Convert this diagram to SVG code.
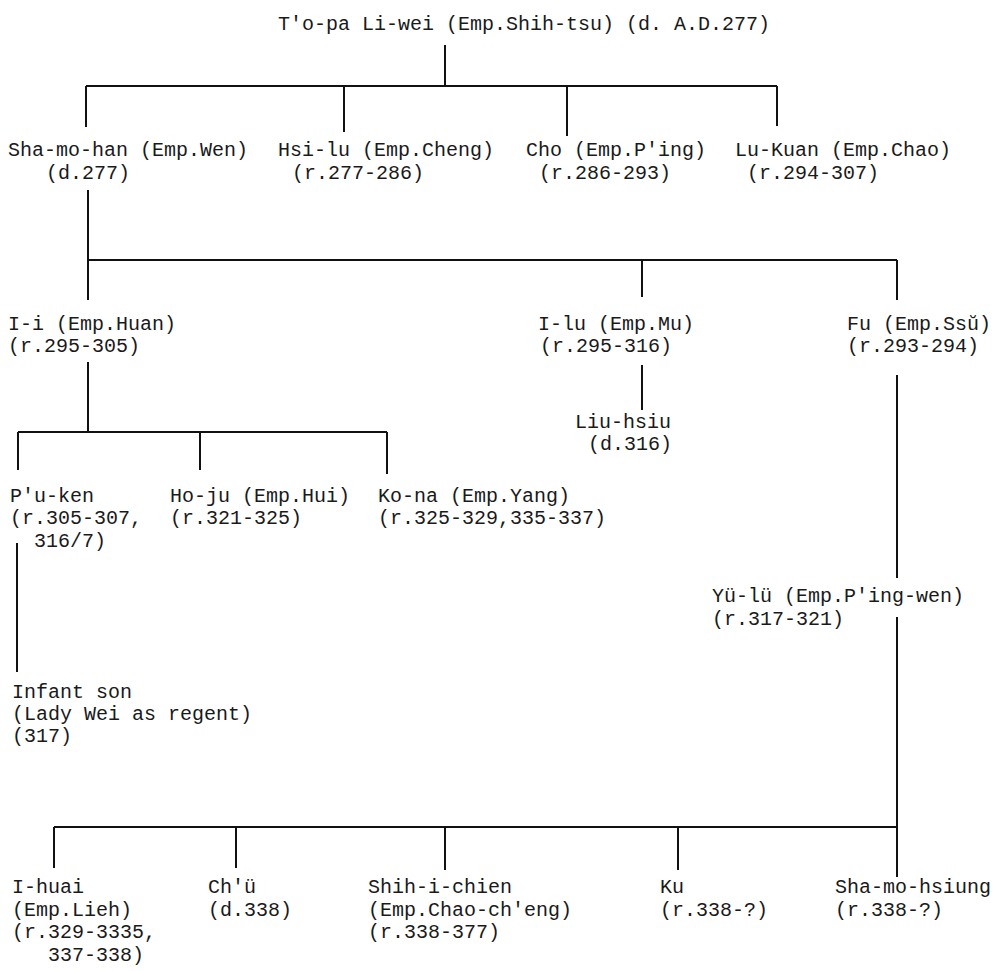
<svg xmlns="http://www.w3.org/2000/svg" width="998" height="971" viewBox="0 0 998 971">
  <style>
    .bg { fill: #ffffff; }
    text { font-family: "Liberation Mono", "DejaVu Sans Mono", monospace; font-size: 20px; fill: #1a1a1a; }
    .link { stroke: #111111; stroke-width: 2; fill: none; }
  </style>
  <rect class="bg" x="0" y="0" width="998" height="971"/>

  <!-- lines of descent -->
  <g id="connectors">
    <path class="link" d="M445,45 V86 M86,86 H777 M86,86 V127 M344,86 V132 M567,86 V136 M777,86 V126"/>
    <path class="link" d="M88,190 V300 M88,260 H897 M642,260 V297 M897,260 V300"/>
    <path class="link" d="M642,365 V410"/>
    <path class="link" d="M88,362 V432 M18,432 H387 M18,432 V470 M200,432 V470 M387,432 V474"/>
    <path class="link" d="M17,543 V672"/>
    <path class="link" d="M897,375 V578 M897,617 V877"/>
    <path class="link" d="M54,827 H897 M54,827 V868 M236,827 V868 M445,827 V870 M678,827 V870"/>
  </g>

  <g id="tuoba-liwei">
    <text x="278" y="30">T'o-pa Li-wei (Emp.Shih-tsu) (d. A.D.277)</text>
  </g>

  <g id="shamohan">
    <text x="8" y="156">Sha-mo-han (Emp.Wen)</text>
    <text x="46" y="179">(d.277)</text>
  </g>
  <g id="hsilu">
    <text x="278" y="156">Hsi-lu (Emp.Cheng)</text>
    <text x="292" y="179">(r.277-286)</text>
  </g>
  <g id="cho">
    <text x="526" y="156">Cho (Emp.P'ing)</text>
    <text x="539" y="179">(r.286-293)</text>
  </g>
  <g id="lukuan">
    <text x="735" y="156">Lu-Kuan (Emp.Chao)</text>
    <text x="747" y="179">(r.294-307)</text>
  </g>

  <g id="ii">
    <text x="8" y="330">I-i (Emp.Huan)</text>
    <text x="8" y="352">(r.295-305)</text>
  </g>
  <g id="ilu">
    <text x="538" y="330">I-lu (Emp.Mu)</text>
    <text x="540" y="352">(r.295-316)</text>
  </g>
  <g id="fu">
    <text x="847" y="330">Fu (Emp.Ssŭ)</text>
    <text x="847" y="352">(r.293-294)</text>
  </g>
  <g id="liuhsiu">
    <text x="575" y="428">Liu-hsiu</text>
    <text x="588" y="450">(d.316)</text>
  </g>

  <g id="puken">
    <text x="10" y="502">P'u-ken</text>
    <text x="10" y="524">(r.305-307,</text>
    <text x="34" y="547">316/7)</text>
  </g>
  <g id="hoju">
    <text x="170" y="502">Ho-ju (Emp.Hui)</text>
    <text x="170" y="524">(r.321-325)</text>
  </g>
  <g id="kona">
    <text x="378" y="502">Ko-na (Emp.Yang)</text>
    <text x="378" y="524">(r.325-329,335-337)</text>
  </g>

  <g id="yulu">
    <text x="712" y="602">Yü-lü (Emp.P'ing-wen)</text>
    <text x="712" y="625">(r.317-321)</text>
  </g>

  <g id="infant-son">
    <text x="12" y="698">Infant son</text>
    <text x="12" y="720">(Lady Wei as regent)</text>
    <text x="12" y="742">(317)</text>
  </g>

  <g id="ihuai">
    <text x="12" y="893">I-huai</text>
    <text x="12" y="916">(Emp.Lieh)</text>
    <text x="12" y="938">(r.329-3335,</text>
    <text x="48" y="961">337-338)</text>
  </g>
  <g id="chu">
    <text x="208" y="893">Ch'ü</text>
    <text x="208" y="916">(d.338)</text>
  </g>
  <g id="shihichien">
    <text x="368" y="893">Shih-i-chien</text>
    <text x="368" y="916">(Emp.Chao-ch'eng)</text>
    <text x="368" y="938">(r.338-377)</text>
  </g>
  <g id="ku">
    <text x="660" y="893">Ku</text>
    <text x="660" y="916">(r.338-?)</text>
  </g>
  <g id="shamohsiung">
    <text x="835" y="893">Sha-mo-hsiung</text>
    <text x="835" y="916">(r.338-?)</text>
  </g>
</svg>
